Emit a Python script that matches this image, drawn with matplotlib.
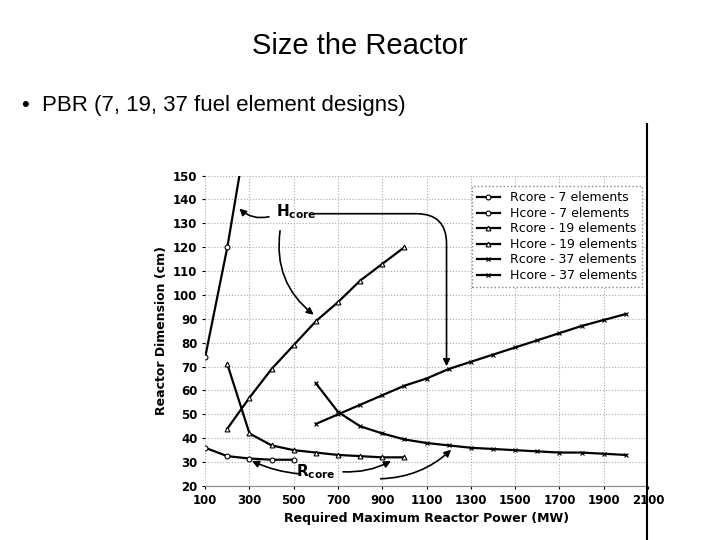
import matplotlib
matplotlib.use("Agg")
import matplotlib.pyplot as plt
from matplotlib.lines import Line2D

x7 = [100, 200, 300, 400, 500]
r7 = [36, 32.5, 31.5, 31, 31]
xh7 = [100, 200, 300]
h7 = [74, 120, 175]
x19 = [200, 300, 400, 500, 600, 700, 800, 900, 1000]
r19 = [71, 42, 37, 35, 34, 33, 32.5, 32, 32]
h19 = [44, 57, 69, 79, 89, 97, 106, 113, 120]
x37 = [600, 700, 800, 900, 1000, 1100, 1200, 1300, 1400, 1500, 1600, 1700, 1800, 1900, 2000]
r37 = [63, 51, 45, 42, 39.5, 38, 37, 36, 35.5, 35, 34.5, 34, 34, 33.5, 33]
h37 = [46, 50, 54, 58, 62, 65, 69, 72, 75, 78, 81, 84, 87, 89.5, 92]
xticks = list(range(100, 2101, 200))
yticks = list(range(20, 151, 10))

fig = plt.figure(figsize=(7.2, 5.4), dpi=100)
fig.text(0.5, 0.915, "Size the Reactor", ha="center", va="center", fontsize=21, family="Liberation Sans")
fig.text(0.03, 0.805, "•  PBR (7, 19, 37 fuel element designs)", ha="left", va="center", fontsize=16, family="Liberation Sans")
fig.add_artist(Line2D([0.899, 0.899], [0, 0.77], color="black", lw=1.5))

ax = fig.add_axes([0.285, 0.1, 0.615, 0.575])
kw = dict(color="black", lw=1.6, ms=3.5, mfc="white", mew=0.8)
ax.plot(x7, r7, marker="o", label="Rcore - 7 elements", **kw)
ax.plot(xh7, h7, marker="o", label="Hcore - 7 elements", **kw)
ax.plot(x19, r19, marker="^", label="Rcore - 19 elements", **kw)
ax.plot(x19, h19, marker="^", label="Hcore - 19 elements", **kw)
ax.plot(x37, r37, marker="x", label="Rcore - 37 elements", **kw)
ax.plot(x37, h37, marker="x", label="Hcore - 37 elements", **kw)
ax.set_xlim(100, 2100)
ax.set_ylim(20, 150)
ax.set_xticks(xticks)
ax.set_yticks(yticks)
ax.tick_params(labelsize=8.5, length=2)
for lab in ax.get_xticklabels() + ax.get_yticklabels():
    lab.set_fontweight("bold")
ax.grid(True, ls=":", color="#aaaaaa", lw=0.8)
for s in ["top", "right", "left"]:
    ax.spines[s].set_visible(False)
ax.spines["bottom"].set_color("#888888")
ax.set_xlabel("Required Maximum Reactor Power (MW)", fontsize=9, fontweight="bold")
ax.set_ylabel("Reactor Dimension (cm)", fontsize=9, fontweight="bold")
leg = ax.legend(loc="upper right", fontsize=9, frameon=True, fancybox=False, edgecolor="#888888",
                framealpha=1, handlelength=1.8, borderpad=0.4, labelspacing=0.2, bbox_to_anchor=(1.0, 0.985))
leg.get_frame().set_linestyle(":")

ax.text(420, 135, r"H$_{\mathregular{core}}$", fontsize=11, fontweight="bold", ha="left", va="center")
ap = dict(arrowstyle="-|>", color="black", lw=1.2)
ax.annotate("", xy=(245, 137), xytext=(400, 133), arrowprops=dict(connectionstyle="arc3,rad=-0.3", **ap))
ax.annotate("", xy=(600, 91), xytext=(440, 128), arrowprops=dict(connectionstyle="arc3,rad=0.3", **ap))
ax.annotate("", xy=(1190, 69), xytext=(580, 134), arrowprops=dict(connectionstyle="angle,angleA=0,angleB=90,rad=30", **ap))
ax.text(600, 26, r"R$_{\mathregular{core}}$", fontsize=11, fontweight="bold", ha="center", va="center")
ax.annotate("", xy=(300, 31), xytext=(540, 25), arrowprops=dict(connectionstyle="arc3,rad=-0.1", **ap))
ax.annotate("", xy=(950, 31), xytext=(710, 26), arrowprops=dict(connectionstyle="arc3,rad=0.15", **ap))
ax.annotate("", xy=(1220, 36), xytext=(880, 23), arrowprops=dict(connectionstyle="arc3,rad=0.2", **ap))

fig.savefig("out.png", dpi=100)
